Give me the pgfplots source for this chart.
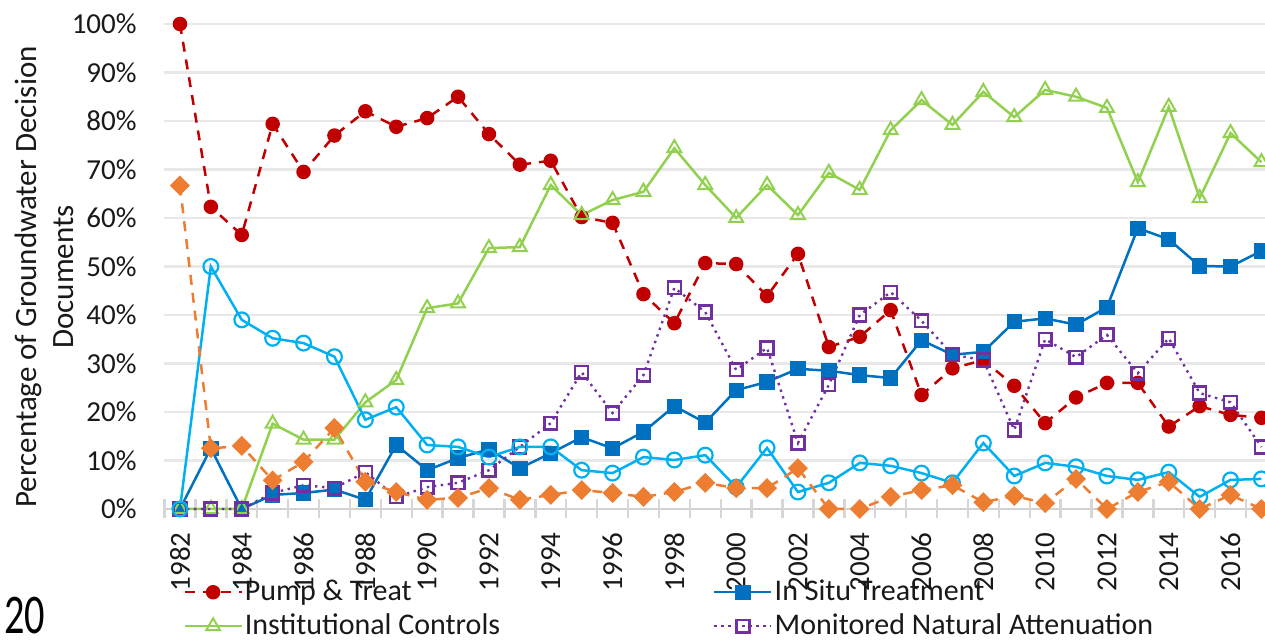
\documentclass[border=0pt]{standalone}
\usepackage{fontspec}
\setmainfont{Carlito}
\usepackage{pgfplots}
\pgfplotsset{compat=1.18}
\usepackage{pgfplotstable}
\definecolor{cPT}{HTML}{C00000}
\definecolor{cIS}{HTML}{0070C0}
\definecolor{cIC}{HTML}{92D050}
\definecolor{cMNA}{HTML}{7030A0}
\definecolor{cLB}{HTML}{00B0F0}
\definecolor{cOR}{HTML}{ED7D31}
\pgfplotstableread{
year pt ist ic mna lb or
1982 100 0 0 0 0 66.7
1983 62.3 12.5 0 0 50 12.5
1984 56.5 0 0 0 39 13.0
1985 79.4 2.9 17.6 3.3 35.2 5.9
1986 69.5 3.3 14.3 4.9 34.2 9.7
1987 77 4.0 14.3 4.3 31.4 16.7
1988 82 1.9 22 7.6 18.4 5.6
1989 78.8 13.2 26.6 2.5 21 3.5
1990 80.6 8 41.4 4.5 13.2 1.9
1991 85 10.5 42.4 5.4 12.8 2.3
1992 77.3 12.3 53.8 8 10.7 4.3
1993 71 8.4 54 12.8 12.8 1.9
1994 71.8 11.5 66.8 17.7 12.8 2.9
1995 60.2 14.8 60.6 28.2 8 3.9
1996 59 12.5 63.7 19.8 7.4 3.3
1997 44.3 15.9 65.4 27.6 10.7 2.5
1998 38.3 21.2 74.4 45.6 10.1 3.5
1999 50.7 17.8 66.8 40.6 11.1 5.4
2000 50.5 24.5 60 28.7 4.5 4.3
2001 43.9 26.2 66.8 33.2 12.6 4.3
2002 52.6 28.9 60.6 13.6 3.5 8.4
2003 33.4 28.5 69.3 25.6 5.4 0
2004 35.5 27.6 65.8 40 9.5 0
2005 41 27 78.1 44.7 8.9 2.5
2006 23.5 34.8 84.3 38.8 7.4 3.9
2007 29 31.8 79.2 31.8 5.4 4.9
2008 30.7 32.4 86 30.7 13.6 1.4
2009 25.4 38.6 80.8 16.3 6.8 2.7
2010 17.7 39.3 86.4 35 9.5 1.2
2011 23 38 85 31.3 8.7 6.2
2012 26 41.6 82.7 35.9 6.8 0
2013 26 57.9 67.4 28 6 3.5
2014 17 55.6 82.9 35.2 7.6 5.6
2015 21.2 50.1 64.1 23.9 2.5 0
2016 19.4 50 77.5 22 6 2.9
2017 18.8 53.2 71.5 12.8 6.2 0
}\datatable
\begin{document}
\begin{tikzpicture}
\begin{axis}[
  at={(82.25pt,65.5pt)}, anchor=south west,
  scale only axis, width=556.2pt, height=242.5pt,
  xmin=1981.5, xmax=2017.5, ymin=0, ymax=100,
  clip=false,
  axis x line*=bottom, axis y line*=left,
  x axis line style={draw=black!18, line width=1.3pt, -},
  y axis line style={draw=none},
  xtick={1982,1984,1986,1988,1990,1992,1994,1996,1998,2000,2002,2004,2006,2008,2010,2012,2014,2016},
  xticklabels={1982,1984,1986,1988,1990,1992,1994,1996,1998,2000,2002,2004,2006,2008,2010,2012,2014,2016},
  extra x ticks={1981.5,1982.5,1983.5,1984.5,1985.5,1986.5,1987.5,1988.5,1989.5,1990.5,1991.5,1992.5,1993.5,1994.5,1995.5,1996.5,1997.5,1998.5,1999.5,2000.5,2001.5,2002.5,2003.5,2004.5,2005.5,2006.5,2007.5,2008.5,2009.5,2010.5,2011.5,2012.5,2013.5,2014.5,2015.5,2016.5,2017.5},
  extra x tick labels={},
  extra x tick style={major tick length=9.5pt, tick align=center, tick style={draw=black!16, line width=1.2pt}},
  major tick length=0pt,
  ytick style={draw=none},
  ytick={0,10,20,30,40,50,60,70,80,90,100},
  yticklabels={0\%,10\%,20\%,30\%,40\%,50\%,60\%,70\%,80\%,90\%,100\%},
  ymajorgrids, major grid style={black!9, line width=1.2pt},
  tick label style={font=\fontsize{14.5}{16}\selectfont, text=black!90},
  xticklabel style={rotate=90, anchor=east, inner sep=0pt},
  xticklabel shift=11.5pt,
  yticklabel style={anchor=east, inner sep=0pt},
  yticklabel shift=13.75pt,
  legend columns=2,
  legend cell align=left,
  legend style={at={(0.0166,-0.143)}, anchor=north west, draw=none, fill=none,
    inner sep=0pt, row sep=3.5pt, font=\fontsize{15}{18}\selectfont, text=black!90,
    nodes={inner sep=1pt, text height=10pt, text depth=1.5pt},
    /tikz/every even column/.append style={column sep=105.5pt}},
  legend image code/.code={\draw[mark repeat=2,mark phase=2,#1] plot coordinates {(0pt,0pt)(14.25pt,0pt)(28.5pt,0pt)};},
]
\addplot[cPT, line width=1.25pt, dash pattern=on 5pt off 4pt, mark=*, mark size=3pt, mark options={solid}] table[x=year,y=pt]{\datatable};
\addlegendentry{Pump \& Treat}
\addplot[cIS, line width=1.25pt, mark=square*, mark size=3.2pt] table[x=year,y=ist]{\datatable};
\addlegendentry{In Situ Treatment}
\addplot[cIC, line width=1.25pt, mark=triangle, mark size=4pt, mark options={solid, line width=1pt}] table[x=year,y=ic]{\datatable};
\addlegendentry{Institutional Controls}
\addplot[cMNA, line width=1.2pt, dash pattern=on 1.2pt off 2.3pt, mark=square, mark size=3.2pt, mark options={solid, line width=1.2pt}] table[x=year,y=mna]{\datatable};
\addlegendentry{Monitored Natural Attenuation}
\addplot[cLB, line width=1.25pt, mark=o, mark size=3.7pt, mark options={solid, line width=1.1pt}, forget plot] table[x=year,y=lb]{\datatable};
\addplot[cOR, line width=1.25pt, dash pattern=on 5pt off 4pt, mark=square*, mark size=2.9pt, mark options={solid, rotate=45}, forget plot] table[x=year,y=or]{\datatable};
\end{axis}
\node[rotate=90, align=center, font=\fontsize{15.5}{18.5}\selectfont, text=black!90] at (22pt,181.5pt) {Percentage of Groundwater Decision\\Documents};
\node[anchor=base west, font=\fontsize{28}{30}\selectfont, inner sep=0pt] at (2pt,3pt) {\scalebox{0.72}[1]{20}};
\pgfresetboundingbox
\useasboundingbox (0,0) rectangle (632.5pt,320pt);
\end{tikzpicture}
\end{document}
